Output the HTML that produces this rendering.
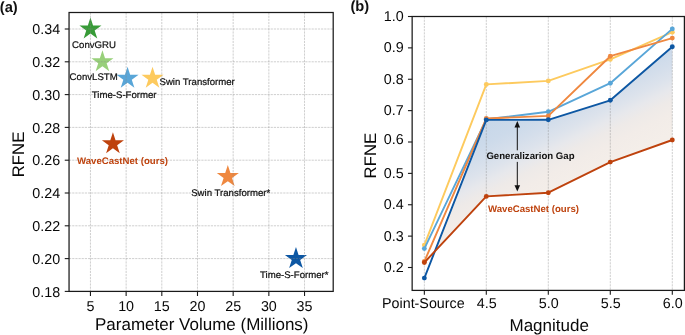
<!DOCTYPE html>
<html><head><meta charset="utf-8"><title>Figure</title>
<style>html,body{margin:0;padding:0;background:#fff;}body{width:685px;height:335px;overflow:hidden;font-family:"Liberation Sans",sans-serif;}#fig{width:685px;height:335px;will-change:transform;}svg{display:block;text-rendering:geometricPrecision;}</style></head>
<body>
<div id="fig">
<svg width="685" height="335" viewBox="0 0 685 335" font-family="Liberation Sans, sans-serif">
<rect x="0" y="0" width="685" height="335" fill="#ffffff"/>
<g id="left">
<polygon points="90.45,17.50 93.05,25.52 101.48,25.52 94.66,30.47 97.27,38.48 90.45,33.53 83.63,38.48 86.24,30.47 79.42,25.52 87.85,25.52" fill="#379b37" fill-opacity="1.0"/>
<polygon points="102.44,50.30 105.04,58.32 113.47,58.32 106.65,63.27 109.26,71.28 102.44,66.33 95.62,71.28 98.22,63.27 91.41,58.32 99.83,58.32" fill="#98d07a" fill-opacity="1.0"/>
<polygon points="127.56,66.70 130.16,74.72 138.59,74.72 131.77,79.67 134.38,87.68 127.56,82.73 120.74,87.68 123.34,79.67 116.52,74.72 124.95,74.72" fill="#59a6d8" fill-opacity="1.0"/>
<polygon points="152.53,66.70 155.14,74.72 163.57,74.72 156.75,79.67 159.35,87.68 152.53,82.73 145.71,87.68 148.32,79.67 141.50,74.72 149.93,74.72" fill="#fdca5e" fill-opacity="1.0"/>
<polygon points="112.93,132.30 115.53,140.32 123.96,140.32 117.14,145.27 119.75,153.28 112.93,148.33 106.11,153.28 108.71,145.27 101.90,140.32 110.32,140.32" fill="#be420d" fill-opacity="1.0"/>
<polygon points="227.82,165.10 230.42,173.12 238.85,173.12 232.03,178.07 234.64,186.08 227.82,181.13 221.00,186.08 223.60,178.07 216.79,173.12 225.21,173.12" fill="#ef8840" fill-opacity="1.0"/>
<polygon points="295.97,247.10 298.57,255.12 307.00,255.12 300.18,260.07 302.79,268.08 295.97,263.13 289.15,268.08 291.75,260.07 284.93,255.12 293.36,255.12" fill="#0d57a3" fill-opacity="1.0"/>
<line x1="90.45" y1="12.5" x2="90.45" y2="291.4" stroke="#868686" stroke-opacity="0.5" stroke-width="0.8" stroke-dasharray="2.2 0.95" fill="none"/>
<line x1="126.13" y1="12.5" x2="126.13" y2="291.4" stroke="#868686" stroke-opacity="0.5" stroke-width="0.8" stroke-dasharray="2.2 0.95" fill="none"/>
<line x1="161.81" y1="12.5" x2="161.81" y2="291.4" stroke="#868686" stroke-opacity="0.5" stroke-width="0.8" stroke-dasharray="2.2 0.95" fill="none"/>
<line x1="197.49" y1="12.5" x2="197.49" y2="291.4" stroke="#868686" stroke-opacity="0.5" stroke-width="0.8" stroke-dasharray="2.2 0.95" fill="none"/>
<line x1="233.17" y1="12.5" x2="233.17" y2="291.4" stroke="#868686" stroke-opacity="0.5" stroke-width="0.8" stroke-dasharray="2.2 0.95" fill="none"/>
<line x1="268.85" y1="12.5" x2="268.85" y2="291.4" stroke="#868686" stroke-opacity="0.5" stroke-width="0.8" stroke-dasharray="2.2 0.95" fill="none"/>
<line x1="304.53" y1="12.5" x2="304.53" y2="291.4" stroke="#868686" stroke-opacity="0.5" stroke-width="0.8" stroke-dasharray="2.2 0.95" fill="none"/>
<line x1="69.05" y1="258.60" x2="333.2" y2="258.60" stroke="#868686" stroke-opacity="0.5" stroke-width="0.8" stroke-dasharray="2.2 0.95" fill="none"/>
<line x1="69.05" y1="225.80" x2="333.2" y2="225.80" stroke="#868686" stroke-opacity="0.5" stroke-width="0.8" stroke-dasharray="2.2 0.95" fill="none"/>
<line x1="69.05" y1="193.00" x2="333.2" y2="193.00" stroke="#868686" stroke-opacity="0.5" stroke-width="0.8" stroke-dasharray="2.2 0.95" fill="none"/>
<line x1="69.05" y1="160.20" x2="333.2" y2="160.20" stroke="#868686" stroke-opacity="0.5" stroke-width="0.8" stroke-dasharray="2.2 0.95" fill="none"/>
<line x1="69.05" y1="127.40" x2="333.2" y2="127.40" stroke="#868686" stroke-opacity="0.5" stroke-width="0.8" stroke-dasharray="2.2 0.95" fill="none"/>
<line x1="69.05" y1="94.60" x2="333.2" y2="94.60" stroke="#868686" stroke-opacity="0.5" stroke-width="0.8" stroke-dasharray="2.2 0.95" fill="none"/>
<line x1="69.05" y1="61.80" x2="333.2" y2="61.80" stroke="#868686" stroke-opacity="0.5" stroke-width="0.8" stroke-dasharray="2.2 0.95" fill="none"/>
<line x1="69.05" y1="29.00" x2="333.2" y2="29.00" stroke="#868686" stroke-opacity="0.5" stroke-width="0.8" stroke-dasharray="2.2 0.95" fill="none"/>
<rect x="69.05" y="12.5" width="264.15" height="278.90" fill="none" stroke="#1a1a1a" stroke-width="1.25"/>
<line x1="90.45" y1="291.4" x2="90.45" y2="296.0" stroke="#1a1a1a" stroke-width="1.1"/>
<text x="90.45" y="310.5" font-size="14.3" text-anchor="middle" fill="#080808">5</text>
<line x1="126.13" y1="291.4" x2="126.13" y2="296.0" stroke="#1a1a1a" stroke-width="1.1"/>
<text x="126.13" y="310.5" font-size="14.3" text-anchor="middle" fill="#080808">10</text>
<line x1="161.81" y1="291.4" x2="161.81" y2="296.0" stroke="#1a1a1a" stroke-width="1.1"/>
<text x="161.81" y="310.5" font-size="14.3" text-anchor="middle" fill="#080808">15</text>
<line x1="197.49" y1="291.4" x2="197.49" y2="296.0" stroke="#1a1a1a" stroke-width="1.1"/>
<text x="197.49" y="310.5" font-size="14.3" text-anchor="middle" fill="#080808">20</text>
<line x1="233.17" y1="291.4" x2="233.17" y2="296.0" stroke="#1a1a1a" stroke-width="1.1"/>
<text x="233.17" y="310.5" font-size="14.3" text-anchor="middle" fill="#080808">25</text>
<line x1="268.85" y1="291.4" x2="268.85" y2="296.0" stroke="#1a1a1a" stroke-width="1.1"/>
<text x="268.85" y="310.5" font-size="14.3" text-anchor="middle" fill="#080808">30</text>
<line x1="304.53" y1="291.4" x2="304.53" y2="296.0" stroke="#1a1a1a" stroke-width="1.1"/>
<text x="304.53" y="310.5" font-size="14.3" text-anchor="middle" fill="#080808">35</text>
<line x1="64.75" y1="291.40" x2="69.05" y2="291.40" stroke="#1a1a1a" stroke-width="1.1"/>
<text x="60.2" y="296.50" font-size="14.3" text-anchor="end" fill="#080808">0.18</text>
<line x1="64.75" y1="258.60" x2="69.05" y2="258.60" stroke="#1a1a1a" stroke-width="1.1"/>
<text x="60.2" y="263.70" font-size="14.3" text-anchor="end" fill="#080808">0.20</text>
<line x1="64.75" y1="225.80" x2="69.05" y2="225.80" stroke="#1a1a1a" stroke-width="1.1"/>
<text x="60.2" y="230.90" font-size="14.3" text-anchor="end" fill="#080808">0.22</text>
<line x1="64.75" y1="193.00" x2="69.05" y2="193.00" stroke="#1a1a1a" stroke-width="1.1"/>
<text x="60.2" y="198.10" font-size="14.3" text-anchor="end" fill="#080808">0.24</text>
<line x1="64.75" y1="160.20" x2="69.05" y2="160.20" stroke="#1a1a1a" stroke-width="1.1"/>
<text x="60.2" y="165.30" font-size="14.3" text-anchor="end" fill="#080808">0.26</text>
<line x1="64.75" y1="127.40" x2="69.05" y2="127.40" stroke="#1a1a1a" stroke-width="1.1"/>
<text x="60.2" y="132.50" font-size="14.3" text-anchor="end" fill="#080808">0.28</text>
<line x1="64.75" y1="94.60" x2="69.05" y2="94.60" stroke="#1a1a1a" stroke-width="1.1"/>
<text x="60.2" y="99.70" font-size="14.3" text-anchor="end" fill="#080808">0.30</text>
<line x1="64.75" y1="61.80" x2="69.05" y2="61.80" stroke="#1a1a1a" stroke-width="1.1"/>
<text x="60.2" y="66.90" font-size="14.3" text-anchor="end" fill="#080808">0.32</text>
<line x1="64.75" y1="29.00" x2="69.05" y2="29.00" stroke="#1a1a1a" stroke-width="1.1"/>
<text x="60.2" y="34.10" font-size="14.3" text-anchor="end" fill="#080808">0.34</text>
<text x="95.0" y="330.0" font-size="17.0" fill="#080808">Parameter Volume (Millions)</text>
<text transform="translate(24.3,177.3) rotate(-90)" font-size="16.8" fill="#080808">RFNE</text>
<text transform="translate(72.1,48.2) scale(1.0,1)" font-size="9.62" fill="#111" stroke="#111" stroke-width="0.22">ConvGRU</text>
<text transform="translate(69.6,80.0) scale(1.0,1)" font-size="9.62" fill="#111" stroke="#111" stroke-width="0.22">ConvLSTM</text>
<text transform="translate(91.8,97.5) scale(1.0,1)" font-size="9.62" fill="#111" stroke="#111" stroke-width="0.22">Time-S-Former</text>
<text transform="translate(159.5,85.0) scale(1.0,1)" font-size="9.62" fill="#111" stroke="#111" stroke-width="0.22">Swin Transformer</text>
<text transform="translate(77.0,163.7) scale(1.0,1)" font-size="9.62" font-weight="bold" fill="#be420d">WaveCastNet (ours)</text>
<text transform="translate(191.2,196.0) scale(1.0,1)" font-size="9.62" fill="#111" stroke="#111" stroke-width="0.22">Swin Transformer*</text>
<text transform="translate(260.0,277.8) scale(1.0,1)" font-size="9.62" fill="#111" stroke="#111" stroke-width="0.22">Time-S-Former*</text>
<text x="-0.2" y="11.6" font-size="14.7" font-weight="bold" fill="#111">(a)</text>
</g>
<g id="right">
<defs><linearGradient id="gg" gradientUnits="userSpaceOnUse" x1="500" y1="113.5" x2="542.5" y2="198.4"><stop offset="0" stop-color="rgb(199,215,233)"/><stop offset="0.21" stop-color="rgb(204,218,234)"/><stop offset="0.347" stop-color="rgb(212,222,235)"/><stop offset="0.474" stop-color="rgb(221,227,236)"/><stop offset="0.579" stop-color="rgb(231,232,236)"/><stop offset="0.684" stop-color="rgb(238,234,232)"/><stop offset="0.81" stop-color="rgb(242,236,232)"/><stop offset="1" stop-color="rgb(244,238,233)"/></linearGradient>
<clipPath id="rclip"><rect x="412.15" y="16.5" width="272.25" height="273.90"/></clipPath></defs>
<polygon points="434.84,251.30 486.30,119.90 548.30,119.80 610.30,100.30 672.30,46.80 672.30,140.00 610.30,162.10 548.30,192.70 486.30,196.40" fill="url(#gg)"/>
<line x1="424.35" y1="16.5" x2="424.35" y2="290.4" stroke="#868686" stroke-opacity="0.5" stroke-width="0.8" stroke-dasharray="2.2 0.95" fill="none"/>
<line x1="486.3" y1="16.5" x2="486.3" y2="290.4" stroke="#868686" stroke-opacity="0.5" stroke-width="0.8" stroke-dasharray="2.2 0.95" fill="none"/>
<line x1="548.3" y1="16.5" x2="548.3" y2="290.4" stroke="#868686" stroke-opacity="0.5" stroke-width="0.8" stroke-dasharray="2.2 0.95" fill="none"/>
<line x1="610.3" y1="16.5" x2="610.3" y2="290.4" stroke="#868686" stroke-opacity="0.5" stroke-width="0.8" stroke-dasharray="2.2 0.95" fill="none"/>
<line x1="672.3" y1="16.5" x2="672.3" y2="290.4" stroke="#868686" stroke-opacity="0.5" stroke-width="0.8" stroke-dasharray="2.2 0.95" fill="none"/>
<g clip-path="url(#rclip)">
<polyline points="424.35,245.10 486.30,84.40 548.30,80.90 610.30,59.40 672.30,32.20" fill="none" stroke="#fdca5e" stroke-width="1.9" stroke-linejoin="round" stroke-linecap="butt"/><circle cx="424.35" cy="245.10" r="2.45" fill="#fdca5e"/><circle cx="486.30" cy="84.40" r="2.45" fill="#fdca5e"/><circle cx="548.30" cy="80.90" r="2.45" fill="#fdca5e"/><circle cx="610.30" cy="59.40" r="2.45" fill="#fdca5e"/><circle cx="672.30" cy="32.20" r="2.45" fill="#fdca5e"/>
<polyline points="424.35,248.60 486.30,119.30 548.30,111.80 610.30,83.20 672.30,28.90" fill="none" stroke="#59a6d8" stroke-width="1.9" stroke-linejoin="round" stroke-linecap="butt"/><circle cx="424.35" cy="248.60" r="2.45" fill="#59a6d8"/><circle cx="486.30" cy="119.30" r="2.45" fill="#59a6d8"/><circle cx="548.30" cy="111.80" r="2.45" fill="#59a6d8"/><circle cx="610.30" cy="83.20" r="2.45" fill="#59a6d8"/><circle cx="672.30" cy="28.90" r="2.45" fill="#59a6d8"/>
<polyline points="424.35,261.50 486.30,118.50 548.30,115.90 610.30,56.20 672.30,38.10" fill="none" stroke="#ef8840" stroke-width="1.9" stroke-linejoin="round" stroke-linecap="butt"/><circle cx="424.35" cy="261.50" r="2.45" fill="#ef8840"/><circle cx="486.30" cy="118.50" r="2.45" fill="#ef8840"/><circle cx="548.30" cy="115.90" r="2.45" fill="#ef8840"/><circle cx="610.30" cy="56.20" r="2.45" fill="#ef8840"/><circle cx="672.30" cy="38.10" r="2.45" fill="#ef8840"/>
<polyline points="424.35,278.10 486.30,119.90 548.30,119.80 610.30,100.30 672.30,46.80" fill="none" stroke="#0d57a3" stroke-width="1.9" stroke-linejoin="round" stroke-linecap="butt"/><circle cx="424.35" cy="278.10" r="2.45" fill="#0d57a3"/><circle cx="486.30" cy="119.90" r="2.45" fill="#0d57a3"/><circle cx="548.30" cy="119.80" r="2.45" fill="#0d57a3"/><circle cx="610.30" cy="100.30" r="2.45" fill="#0d57a3"/><circle cx="672.30" cy="46.80" r="2.45" fill="#0d57a3"/>
<polyline points="424.35,262.50 486.30,196.40 548.30,192.70 610.30,162.10 672.30,140.00" fill="none" stroke="#be420d" stroke-width="1.9" stroke-linejoin="round" stroke-linecap="butt"/><circle cx="424.35" cy="262.50" r="2.45" fill="#be420d"/><circle cx="486.30" cy="196.40" r="2.45" fill="#be420d"/><circle cx="548.30" cy="192.70" r="2.45" fill="#be420d"/><circle cx="610.30" cy="162.10" r="2.45" fill="#be420d"/><circle cx="672.30" cy="140.00" r="2.45" fill="#be420d"/>
</g>
<line x1="517.3" y1="125" x2="517.3" y2="150.3" stroke="#111" stroke-width="1.0"/>
<polygon points="517.3,121.0 514.5,127.4 520.0999999999999,127.4" fill="#111"/>
<line x1="517.3" y1="161.9" x2="517.3" y2="187.5" stroke="#111" stroke-width="1.0"/>
<polygon points="517.3,191.6 514.5,185.2 520.0999999999999,185.2" fill="#111"/>
<text transform="translate(486.4,158.9) scale(1.0,1)" font-size="9.62" font-weight="bold" fill="#111">Generalizarion Gap</text>
<text transform="translate(488.0,211.9) scale(1.0,1)" font-size="9.62" font-weight="bold" fill="#be420d">WaveCastNet (ours)</text>
<rect x="412.15" y="16.5" width="272.25" height="273.90" fill="none" stroke="#1a1a1a" stroke-width="1.25"/>
<line x1="424.35" y1="290.4" x2="424.35" y2="294.79999999999995" stroke="#1a1a1a" stroke-width="1.1"/>
<text x="423.35" y="308.1" font-size="14.3" text-anchor="middle" fill="#080808">Point-Source</text>
<line x1="486.3" y1="290.4" x2="486.3" y2="294.79999999999995" stroke="#1a1a1a" stroke-width="1.1"/>
<text x="486.80" y="308.1" font-size="14.3" text-anchor="middle" fill="#080808">4.5</text>
<line x1="548.3" y1="290.4" x2="548.3" y2="294.79999999999995" stroke="#1a1a1a" stroke-width="1.1"/>
<text x="548.80" y="308.1" font-size="14.3" text-anchor="middle" fill="#080808">5.0</text>
<line x1="610.3" y1="290.4" x2="610.3" y2="294.79999999999995" stroke="#1a1a1a" stroke-width="1.1"/>
<text x="610.80" y="308.1" font-size="14.3" text-anchor="middle" fill="#080808">5.5</text>
<line x1="672.3" y1="290.4" x2="672.3" y2="294.79999999999995" stroke="#1a1a1a" stroke-width="1.1"/>
<text x="672.80" y="308.1" font-size="14.3" text-anchor="middle" fill="#080808">6.0</text>
<line x1="407.95" y1="267.50" x2="412.15" y2="267.50" stroke="#1a1a1a" stroke-width="1.1"/>
<text x="403.7" y="272.10" font-size="14.3" text-anchor="end" fill="#080808">0.2</text>
<line x1="407.95" y1="236.12" x2="412.15" y2="236.12" stroke="#1a1a1a" stroke-width="1.1"/>
<text x="403.7" y="240.72" font-size="14.3" text-anchor="end" fill="#080808">0.3</text>
<line x1="407.95" y1="204.75" x2="412.15" y2="204.75" stroke="#1a1a1a" stroke-width="1.1"/>
<text x="403.7" y="209.35" font-size="14.3" text-anchor="end" fill="#080808">0.4</text>
<line x1="407.95" y1="173.38" x2="412.15" y2="173.38" stroke="#1a1a1a" stroke-width="1.1"/>
<text x="403.7" y="177.97" font-size="14.3" text-anchor="end" fill="#080808">0.5</text>
<line x1="407.95" y1="142.00" x2="412.15" y2="142.00" stroke="#1a1a1a" stroke-width="1.1"/>
<text x="403.7" y="143.90" font-size="14.3" text-anchor="end" fill="#080808">0.6</text>
<line x1="407.95" y1="110.63" x2="412.15" y2="110.63" stroke="#1a1a1a" stroke-width="1.1"/>
<text x="403.7" y="115.23" font-size="14.3" text-anchor="end" fill="#080808">0.7</text>
<line x1="407.95" y1="79.25" x2="412.15" y2="79.25" stroke="#1a1a1a" stroke-width="1.1"/>
<text x="403.7" y="83.85" font-size="14.3" text-anchor="end" fill="#080808">0.8</text>
<line x1="407.95" y1="47.87" x2="412.15" y2="47.87" stroke="#1a1a1a" stroke-width="1.1"/>
<text x="403.7" y="52.47" font-size="14.3" text-anchor="end" fill="#080808">0.9</text>
<line x1="407.95" y1="16.50" x2="412.15" y2="16.50" stroke="#1a1a1a" stroke-width="1.1"/>
<text x="403.7" y="21.10" font-size="14.3" text-anchor="end" fill="#080808">1.0</text>
<text x="509.5" y="330.5" font-size="17.0" fill="#080808">Magnitude</text>
<text transform="translate(376.4,178.4) rotate(-90)" font-size="16.8" fill="#080808">RFNE</text>
<text x="350.4" y="10.5" font-size="14.7" font-weight="bold" fill="#111">(b)</text>
</g>
</svg>
</div>
</body></html>
